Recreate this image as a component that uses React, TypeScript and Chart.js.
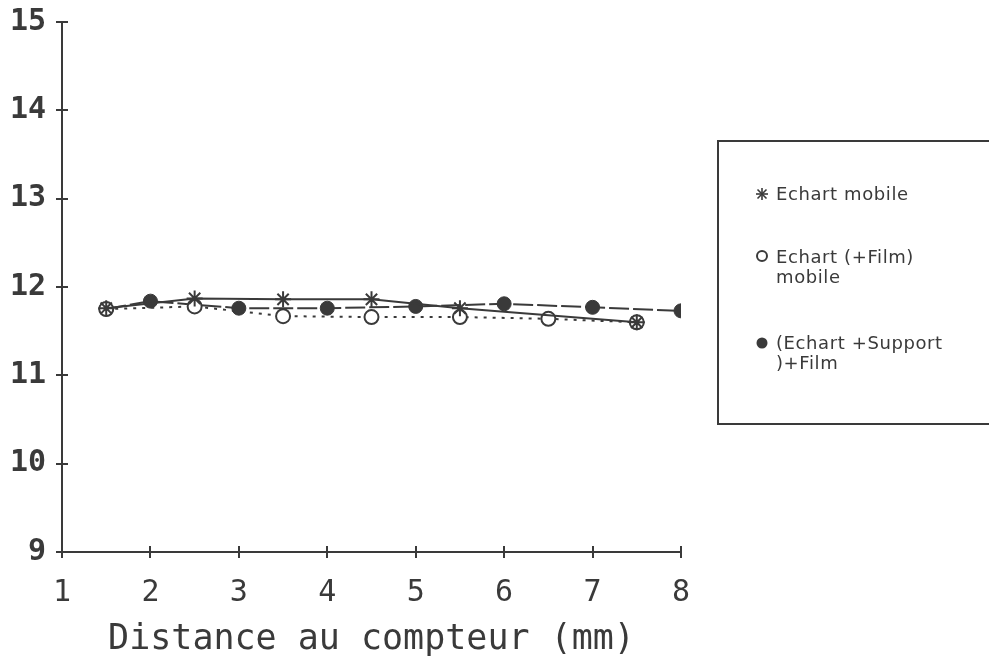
import React, { useEffect, useRef } from "react";
import { Chart, registerables } from "chart.js";

Chart.register(...registerables);

// Distance to counter (mm) and measured values for each configuration
const mobilePositions = [1.5, 2.5, 3.5, 4.5, 5.5, 7.5];
const echartMobile = [11.76, 11.87, 11.86, 11.86, 11.76, 11.6];

const filmPositions = [1.5, 2.5, 3.5, 4.5, 5.5, 6.5, 7.5];
const echartFilmMobile = [11.75, 11.78, 11.67, 11.66, 11.66, 11.64, 11.6];

const supportPositions = [1.5, 2, 3, 4, 5, 6, 7, 8];
const echartSupportFilm = [11.75, 11.84, 11.76, 11.76, 11.78, 11.81, 11.77, 11.73];

const seriesLabels = ["Echart mobile", "Echart (+Film) mobile", "(Echart +Support)+Film"];
const xTickValues = [1, 2, 3, 4, 5, 6, 7, 8];
const yTickValues = [9, 10, 11, 12, 13, 14, 15];

const INK = "#3a3a3a";
const MONO = "'DejaVu Sans Mono', 'Liberation Mono', monospace";

const toPoints = (xs: number[], ys: number[]) => xs.map((x, i) => ({ x, y: ys[i] }));

// Tick marks that cross the axis line on both sides
const crossTicks = {
  id: "crossTicks",
  afterDraw(chart: any) {
    const { ctx, scales, chartArea } = chart;
    const xs = scales.x;
    const ys = scales.y;
    ctx.save();
    ctx.strokeStyle = INK;
    ctx.lineWidth = 2;
    ctx.beginPath();
    xTickValues.forEach((v) => {
      const px = Math.round(xs.getPixelForValue(v));
      ctx.moveTo(px, chartArea.bottom - 6);
      ctx.lineTo(px, chartArea.bottom + 6);
    });
    yTickValues.forEach((v) => {
      const py = Math.round(ys.getPixelForValue(v));
      ctx.moveTo(chartArea.left - 6, py);
      ctx.lineTo(chartArea.left + 6, py);
    });
    ctx.stroke();
    ctx.restore();
  },
};

function Marker({ kind }: { kind: "star" | "open" | "filled" }) {
  return (
    <svg width={16} height={16} viewBox="0 0 16 16" style={{ display: "block" }}>
      {kind === "star" && (
        <g stroke={INK} strokeWidth={1.6}>
          <line x1={8} y1={2} x2={8} y2={14} />
          <line x1={2} y1={8} x2={14} y2={8} />
          <line x1={3.5} y1={3.5} x2={12.5} y2={12.5} />
          <line x1={12.5} y1={3.5} x2={3.5} y2={12.5} />
        </g>
      )}
      {kind === "open" && <circle cx={8} cy={8} r={5} fill="#fff" stroke={INK} strokeWidth={2} />}
      {kind === "filled" && <circle cx={8} cy={8} r={5.5} fill={INK} />}
    </svg>
  );
}

export default function App() {
  const canvasRef = useRef<HTMLCanvasElement | null>(null);

  useEffect(() => {
    if (!canvasRef.current) return;
    const chart = new Chart(canvasRef.current, {
      type: "line",
      data: {
        datasets: [
          {
            label: seriesLabels[0],
            data: toPoints(mobilePositions, echartMobile),
            borderColor: INK,
            borderWidth: 2,
            pointStyle: "star",
            pointRadius: 8,
            pointBorderWidth: 2,
            pointBorderColor: INK,
            pointBackgroundColor: INK,
            tension: 0,
          },
          {
            label: seriesLabels[1],
            data: toPoints(filmPositions, echartFilmMobile),
            borderColor: INK,
            borderWidth: 2,
            borderDash: [3, 6],
            pointStyle: "circle",
            pointRadius: 7,
            pointBorderWidth: 2,
            pointBorderColor: INK,
            pointBackgroundColor: "#ffffff",
            tension: 0,
          },
          {
            label: seriesLabels[2],
            data: toPoints(supportPositions, echartSupportFilm),
            borderColor: INK,
            borderWidth: 2,
            borderDash: [20, 4],
            pointStyle: "circle",
            pointRadius: 7,
            pointBorderWidth: 1,
            pointBorderColor: INK,
            pointBackgroundColor: INK,
            tension: 0,
          },
        ],
      },
      options: {
        responsive: false,
        animation: false,
        layout: { padding: { top: 0, right: 308, left: 0, bottom: 0 } },
        plugins: {
          legend: { display: false },
          tooltip: { enabled: false },
        },
        scales: {
          x: {
            type: "linear",
            min: 1,
            max: 8,
            afterFit: (s: any) => {
              s.height = 115;
            },
            afterBuildTicks: (s: any) => {
              s.ticks = xTickValues.map((v) => ({ value: v }));
            },
            grid: { display: false },
            border: { display: true, color: INK, width: 2 },
            ticks: {
              color: INK,
              padding: 15,
              font: { family: MONO, size: 30 },
            },
            title: {
              display: true,
              text: "Distance au compteur (mm)",
              color: INK,
              font: { family: MONO, size: 35 },
              padding: { top: 8, bottom: 6 },
            },
          },
          y: {
            type: "linear",
            min: 9,
            max: 15,
            afterFit: (s: any) => {
              s.width = 62;
              s.paddingTop = 22;
              s.paddingBottom = 0;
            },
            afterBuildTicks: (s: any) => {
              s.ticks = yTickValues.map((v) => ({ value: v }));
            },
            grid: { display: false },
            border: { display: true, color: INK, width: 2 },
            ticks: {
              color: INK,
              padding: 8,
              font: { family: MONO, size: 30, weight: "bold" },
            },
          },
        },
      },
      plugins: [crossTicks],
    });
    return () => chart.destroy();
  }, []);

  const textStyle: React.CSSProperties = {
    position: "absolute",
    fontFamily: "'DejaVu Sans', sans-serif",
    fontSize: 18,
    letterSpacing: 0.6,
    color: INK,
    lineHeight: "20px",
    whiteSpace: "nowrap",
  };

  return (
    <div
      style={{
        position: "absolute",
        left: 0,
        top: 0,
        width: 989,
        height: 667,
        overflow: "hidden",
        background: "#fff",
      }}
    >
      <canvas ref={canvasRef} width={989} height={667} style={{ display: "block" }} />
      <div
        style={{
          position: "absolute",
          left: 717,
          top: 140,
          width: 290,
          height: 285,
          border: `2px solid ${INK}`,
          boxSizing: "border-box",
        }}
      />
      <div style={{ position: "absolute", left: 754, top: 186 }}>
        <Marker kind="star" />
      </div>
      <div style={{ ...textStyle, left: 776, top: 184 }}>Echart mobile</div>

      <div style={{ position: "absolute", left: 754, top: 248 }}>
        <Marker kind="open" />
      </div>
      <div style={{ ...textStyle, left: 776, top: 247 }}>
        Echart (+Film)
        <br />
        mobile
      </div>

      <div style={{ position: "absolute", left: 754, top: 335 }}>
        <Marker kind="filled" />
      </div>
      <div style={{ ...textStyle, left: 776, top: 333 }}>
        (Echart +Support
        <br />
        )+Film
      </div>
    </div>
  );
}
